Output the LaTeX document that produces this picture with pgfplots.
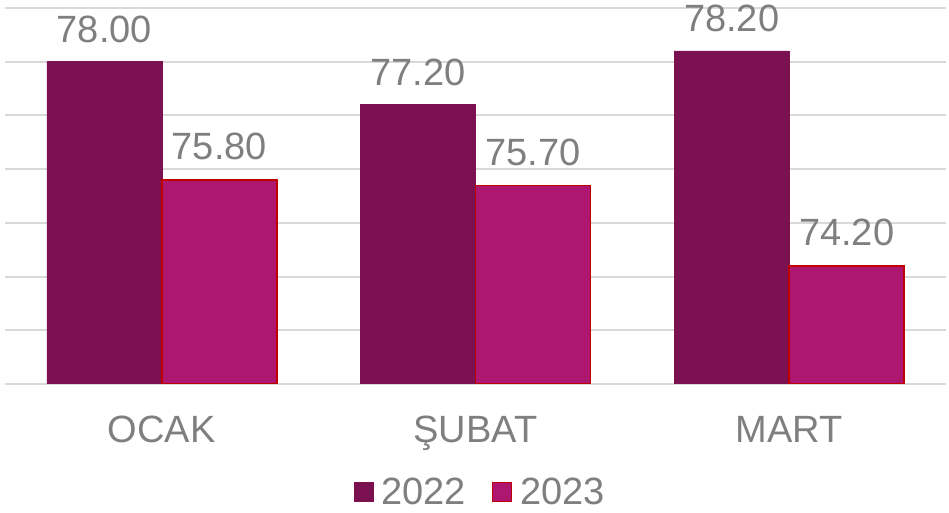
\documentclass[border=0pt]{standalone}
\usepackage{fontspec}
\setmainfont{Liberation Sans}
\usepackage{pgfplots}
\pgfplotsset{compat=1.18}
\definecolor{cA}{HTML}{7B1150}
\definecolor{cB}{HTML}{AD1770}
\definecolor{cBorder}{HTML}{C00000}
\definecolor{txt}{HTML}{7F7F7F}
\definecolor{grid}{HTML}{D9D9D9}
\newcommand{\bigf}{\fontsize{38bp}{46bp}\selectfont}
\begin{document}
\begin{tikzpicture}
\useasboundingbox (0,0) rectangle (949bp,513bp);
\begin{axis}[
  at={(5bp,129bp)}, anchor=south west,
  scale only axis, width=941bp, height=376bp,
  ybar=0pt, bar width=115bp,
  xmin=-0.5, xmax=2.5, ymin=72, ymax=79,
  xtick=data, xticklabels={OCAK,ŞUBAT,MART},
  ytick={72,73,...,79}, yticklabels={},
  major tick length=0pt,
  axis line style={draw=none},
  ymajorgrids, grid style={draw=grid, line width=2bp},
  xticklabel style={font=\bigf, text=txt, inner sep=0pt, yshift=-32bp},
  nodes near coords,
  every node near coord/.append style={font=\bigf, text=txt, anchor=south, inner sep=0pt, yshift=19bp,
    /pgf/number format/.cd, fixed, fixed zerofill, precision=2, assume math mode=true},
  legend columns=2,
  legend style={draw=none, font=\bigf, text=txt, at={(0.505,0)}, anchor=center, yshift=-108bp,
    /tikz/every even column/.append style={column sep=24bp}},
  legend image code/.code={\draw[#1] (0bp,-9.5bp) rectangle (19bp,9.5bp);},
]
\addplot[fill=cA, draw=cA, line width=0.5bp] coordinates {(0,78.00) (1,77.20) (2,78.20)};
\addplot[fill=cB, draw=cBorder, line width=1.5bp] coordinates {(0,75.80) (1,75.70) (2,74.20)};
\legend{\hspace{6bp}2022,\hspace{6bp}2023}
\end{axis}
\end{tikzpicture}
\end{document}
